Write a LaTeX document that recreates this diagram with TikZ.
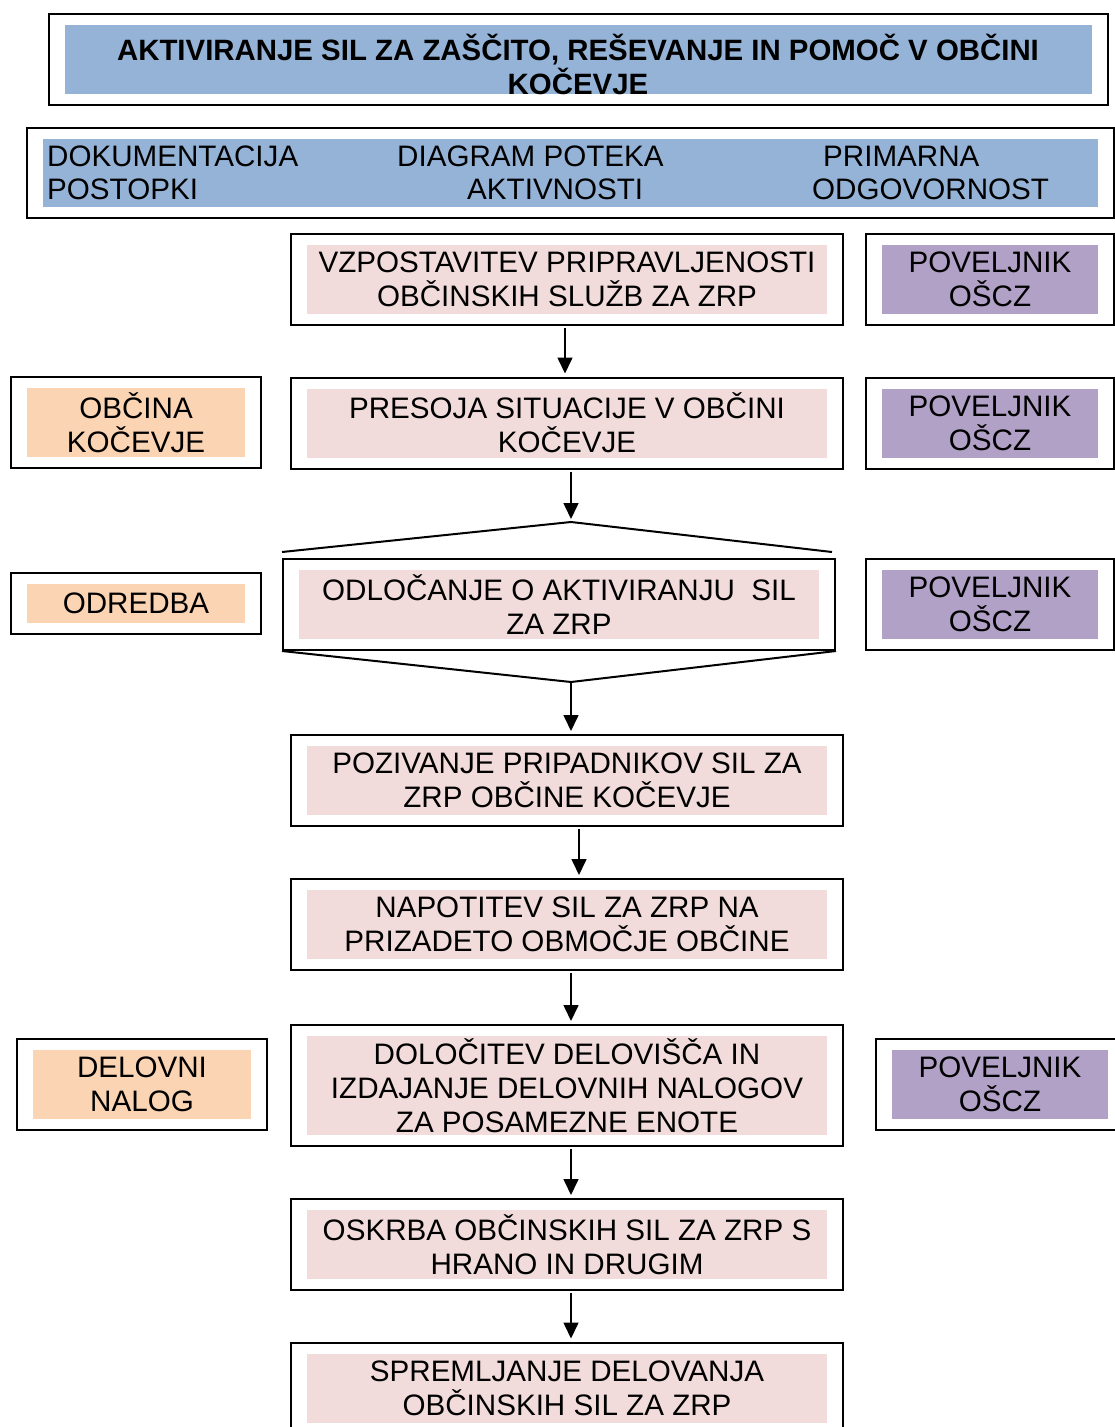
\documentclass[tikz,border=0pt]{standalone}
\usepackage{fontspec}
\setmainfont{Liberation Sans}
\usetikzlibrary{arrows.meta}

\newlength{\du}
\setlength{\du}{1pt}

\definecolor{naslovcolor}{rgb}{0.584314, 0.701961, 0.843137}
\definecolor{korakcolor}{rgb}{0.949020, 0.862745, 0.858824}
\definecolor{dokcolor}{rgb}{0.984314, 0.831373, 0.705882}
\definecolor{odgcolor}{rgb}{0.698039, 0.631373, 0.780392}

\tikzset{
  okvir/.style 2 args={draw, line width=2\du, minimum width=#1\du, minimum height=#2\du,
    inner sep=0pt, align=center, font=\fontsize{29.6}{34}\selectfont},
  polnilo/.style={path picture={\fill[#1] ([shift={(16,11)}]path picture bounding box.north west)
    rectangle ([shift={(-16,-11)}]path picture bounding box.south east);}},
  korak/.style={okvir={552}{91}, polnilo=korakcolor},
  odg/.style={okvir={248}{91}, polnilo=odgcolor},
  dok/.style={okvir={250}{#1}, polnilo=dokcolor},
  glavatekst/.style={anchor=west, inner sep=0pt, font=\fontsize{29.6}{34}\selectfont},
  puscica/.style={-{Triangle[length=16pt,width=15pt]}, line width=1.6\du, shorten >=3pt},
  crta/.style={line width=2\du}
}

\begin{document}
\begin{tikzpicture}[x=1\du,y=-1\du]
\useasboundingbox (0,0) rectangle (1115,1427);

% naslov
\node[okvir={1059}{91}, polnilo=naslovcolor] (naslov) at (578.5,59.5) {};
\node[align=center, inner sep=0pt, font=\fontsize{29.4}{34}\selectfont\bfseries] (naslovtekst) at (578,64)
  {AKTIVIRANJE SIL ZA ZAŠČITO, REŠEVANJE IN POMOČ V OBČINI\\KOČEVJE};

% glava
\node[okvir={1087}{90}, polnilo=naslovcolor] (glava) at (570.5,173) {};
\node[glavatekst] (dok1) at (47,156) {DOKUMENTACIJA};
\node[glavatekst] (dok2) at (47,189) {POSTOPKI};
\node[glavatekst] (dia1) at (397,156) {DIAGRAM POTEKA};
\node[glavatekst] (dia2) at (467,189) {AKTIVNOSTI};
\node[glavatekst] (odg1) at (823,156) {PRIMARNA};
\node[glavatekst] (odg2) at (812,189) {ODGOVORNOST};

% koraki
\node[korak] (vzp) at (567,279) {VZPOSTAVITEV PRIPRAVLJENOSTI\\OBČINSKIH SLUŽB ZA ZRP};
\node[korak] (presoja) at (567,423) {PRESOJA SITUACIJE V OBČINI\\KOČEVJE};
\node[korak, minimum width=552\du] (odl) at (559,604.5) {ODLOČANJE O AKTIVIRANJU~ SIL\\ZA ZRP};
\node[korak] (poziv) at (567,780.5) {POZIVANJE PRIPADNIKOV SIL ZA\\ZRP OBČINE KOČEVJE};
\node[korak] (napot) at (567,924.5) {NAPOTITEV SIL ZA ZRP NA\\PRIZADETO OBMOČJE OBČINE};
\node[korak, minimum height=121\du] (dolo) at (567,1085.5) {DOLOČITEV DELOVIŠČA IN\\IZDAJANJE DELOVNIH NALOGOV\\ZA POSAMEZNE ENOTE};
\node[korak] (oskrba) at (567,1244.5) {OSKRBA OBČINSKIH SIL ZA ZRP S\\HRANO IN DRUGIM};
\node[korak] (sprem) at (567,1388) {SPREMLJANJE DELOVANJA\\OBČINSKIH SIL ZA ZRP};

% odlocitev
\coordinate (odlvrh) at (571,522);
\coordinate (odldno) at (571,682);
\draw[crta] ([shift={(0,-6)}]odl.north west) -- (odlvrh) -- ([shift={(-4,-6)}]odl.north east);
\draw[crta] (odl.south west) -- (odldno) -- (odl.south east);

% dokumentacija
\node[dok=91] (obcina) at (136,422.5) {OBČINA\\KOČEVJE};
\node[dok=61] (odredba) at (136,603.5) {ODREDBA};
\node[dok=91] (delovni) at (142,1084.5) {DELOVNI\\NALOG};

% odgovornost
\node[odg] (pov1) at (990,279) {POVELJNIK\\OŠCZ};
\node[odg] (pov2) at (990,423) {POVELJNIK\\OŠCZ};
\node[odg] (pov3) at (990,604.5) {POVELJNIK\\OŠCZ};
\node[odg] (pov4) at (1000,1084.5) {POVELJNIK\\OŠCZ};

% puscice
\draw[puscica] ([shift={(-2,2)}]vzp.south) -- ([shift={(-2,0)}]presoja.north);
\draw[puscica] ([shift={(4,2)}]presoja.south) -- (odlvrh);
\draw[puscica] (odldno) -- ([shift={(4,0)}]poziv.north);
\draw[puscica] ([shift={(12,2)}]poziv.south) -- ([shift={(12,0)}]napot.north);
\draw[puscica] ([shift={(4,2)}]napot.south) -- ([shift={(4,0)}]dolo.north);
\draw[puscica] ([shift={(4,2)}]dolo.south) -- ([shift={(4,0)}]oskrba.north);
\draw[puscica] ([shift={(4,2)}]oskrba.south) -- ([shift={(4,0)}]sprem.north);
\end{tikzpicture}
\end{document}
